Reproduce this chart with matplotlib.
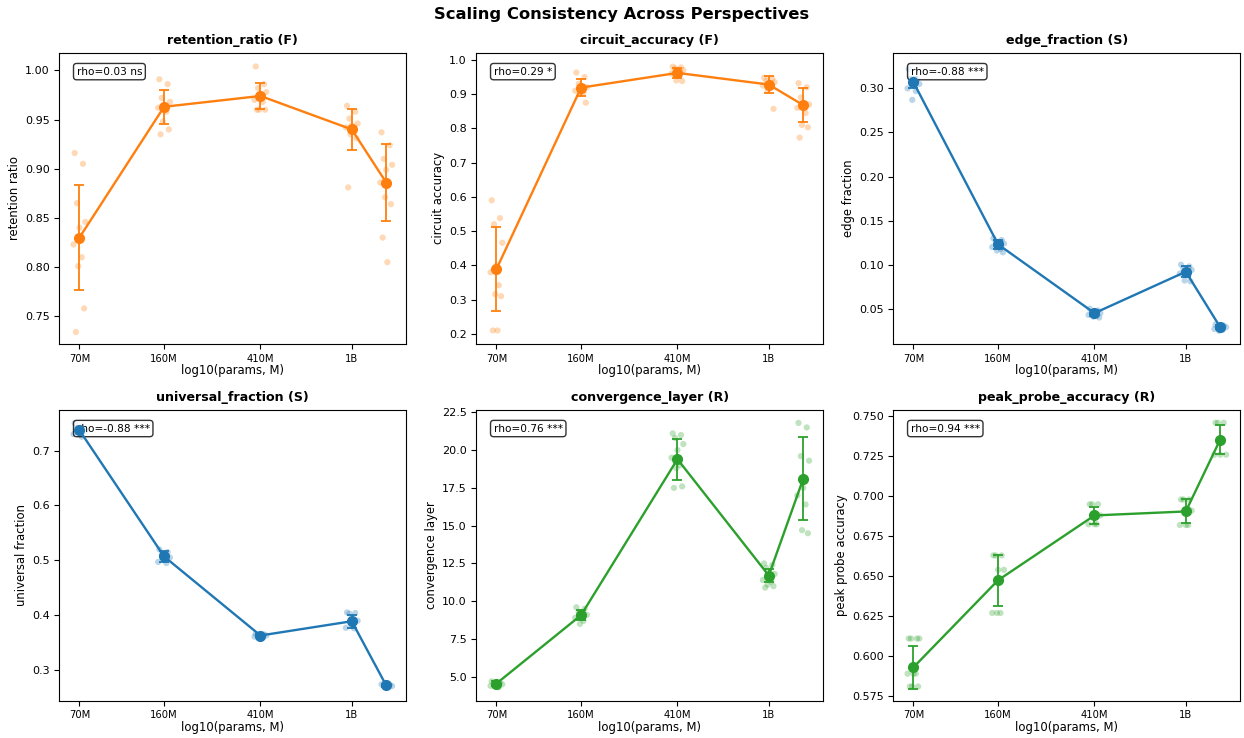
import numpy as np
import matplotlib
matplotlib.use("Agg")
import matplotlib.pyplot as plt

# model sizes (millions of params); last one has no tick label
sizes = [70, 160, 410, 1000, 1400]
size_labels = ["70M", "160M", "410M", "1B"]

# retention_ratio (F)
ret_points = [
    [0.916, 0.905, 0.865, 0.846, 0.840, 0.823, 0.810, 0.801, 0.758, 0.734],
    [0.991, 0.986, 0.972, 0.968, 0.965, 0.962, 0.958, 0.948, 0.940, 0.935],
    [1.004, 0.986, 0.982, 0.978, 0.975, 0.970, 0.968, 0.960, 0.960, 0.960],
    [0.964, 0.958, 0.951, 0.946, 0.944, 0.942, 0.940, 0.935, 0.931, 0.881],
    [0.937, 0.924, 0.910, 0.904, 0.899, 0.886, 0.884, 0.871, 0.864, 0.830, 0.805],
]
ret_mean = [0.830, 0.963, 0.974, 0.940, 0.886]
ret_err = [0.053, 0.017, 0.013, 0.021, 0.039]

# circuit_accuracy (F)
circ_points = [
    [0.590, 0.538, 0.520, 0.466, 0.400, 0.380, 0.342, 0.316, 0.310, 0.210, 0.210],
    [0.963, 0.950, 0.930, 0.920, 0.915, 0.910, 0.905, 0.900, 0.875],
    [0.980, 0.978, 0.975, 0.970, 0.965, 0.960, 0.955, 0.940, 0.938],
    [0.948, 0.945, 0.940, 0.935, 0.930, 0.925, 0.920, 0.910, 0.857],
    [0.932, 0.920, 0.890, 0.870, 0.865, 0.860, 0.845, 0.810, 0.803, 0.773],
]
circ_mean = [0.389, 0.919, 0.962, 0.928, 0.868]
circ_err = [0.123, 0.025, 0.014, 0.024, 0.049]

# edge_fraction (S)
edge_points = [
    [0.322, 0.310, 0.308, 0.305, 0.303, 0.300, 0.297, 0.287],
    [0.130, 0.128, 0.126, 0.124, 0.122, 0.120, 0.118, 0.116, 0.114],
    [0.050, 0.048, 0.046, 0.045, 0.044, 0.043, 0.042, 0.041, 0.040],
    [0.100, 0.098, 0.096, 0.094, 0.092, 0.090, 0.088, 0.082, 0.081],
    [0.032, 0.031, 0.030, 0.029, 0.028, 0.027, 0.026, 0.025],
]
edge_mean = [0.307, 0.123, 0.045, 0.092, 0.029]
edge_err = [0.006, 0.005, 0.003, 0.006, 0.002]

# universal_fraction (S)
univ_points = [
    [0.750, 0.745, 0.740, 0.735, 0.730, 0.730, 0.725],
    [0.520, 0.515, 0.510, 0.505, 0.500, 0.497, 0.495],
    [0.366, 0.365, 0.364, 0.363, 0.362, 0.361],
    [0.405, 0.404, 0.403, 0.390, 0.380, 0.377, 0.376],
    [0.274, 0.273, 0.272, 0.271, 0.270],
]
univ_mean = [0.737, 0.507, 0.363, 0.389, 0.272]
univ_err = [0.007, 0.010, 0.002, 0.012, 0.002]

# convergence_layer (R)
conv_points = [
    [4.7, 4.6, 4.6, 4.5, 4.5, 4.4, 4.3],
    [9.6, 9.5, 9.3, 9.1, 9.0, 8.9, 8.7, 8.5],
    [21.1, 21.0, 20.8, 20.4, 20.0, 19.5, 19.0, 18.8, 17.6, 17.5],
    [12.5, 12.4, 12.2, 11.8, 11.6, 11.4, 11.3, 11.1, 11.0, 10.9],
    [21.8, 21.5, 19.6, 19.3, 17.5, 17.0, 16.4, 14.7, 14.5],
]
conv_mean = [4.55, 9.08, 19.4, 11.7, 18.1]
conv_err = [0.15, 0.35, 1.35, 0.45, 2.75]

# peak_probe_accuracy (R)
probe_points = [
    [0.611, 0.611, 0.611, 0.611, 0.589, 0.589, 0.589, 0.581, 0.581, 0.581],
    [0.663, 0.663, 0.663, 0.654, 0.654, 0.627, 0.627, 0.627],
    [0.695, 0.695, 0.695, 0.688, 0.6825, 0.6825, 0.6825],
    [0.698, 0.698, 0.698, 0.691, 0.682, 0.682, 0.682],
    [0.746, 0.746, 0.746, 0.726, 0.726, 0.726],
]
probe_mean = [0.593, 0.6475, 0.688, 0.6905, 0.7355]
probe_err = [0.0135, 0.016, 0.0055, 0.0075, 0.009]

titles = ["retention_ratio (F)", "circuit_accuracy (F)", "edge_fraction (S)",
          "universal_fraction (S)", "convergence_layer (R)", "peak_probe_accuracy (R)"]
ylabels = ["retention ratio", "circuit accuracy", "edge fraction",
           "universal fraction", "convergence layer", "peak probe accuracy"]
rho_text = ["rho=0.03 ns", "rho=0.29 *", "rho=-0.88 ***",
            "rho=-0.88 ***", "rho=0.76 ***", "rho=0.94 ***"]
all_points = [ret_points, circ_points, edge_points, univ_points, conv_points, probe_points]
all_means = [ret_mean, circ_mean, edge_mean, univ_mean, conv_mean, probe_mean]
all_errs = [ret_err, circ_err, edge_err, univ_err, conv_err, probe_err]
colors = ["#ff7f0e", "#ff7f0e", "#1f77b4", "#1f77b4", "#2ca02c", "#2ca02c"]
ylims = [(0.722, 1.018), (0.171, 1.021), (0.0102, 0.3405),
         (0.2442, 0.7745), (3.415, 22.68), (0.5721, 0.7542)]

# fixed horizontal jitter pattern for the raw points
jitter = [-0.02, 0.015, -0.01, 0.025, 0.0, -0.025, 0.01, -0.005, 0.02, -0.015, 0.005]

x = np.log10(sizes)

fig, axes = plt.subplots(2, 3, figsize=(12.44, 7.38), dpi=100)
fig.subplots_adjust(left=0.0477, right=0.9968, top=0.9286, bottom=0.0505,
                    wspace=0.203, hspace=0.226)

for i, ax in enumerate(axes.flat):
    c = colors[i]
    for xi, pts in zip(x, all_points[i]):
        xs = [xi + jitter[k % len(jitter)] for k in range(len(pts))]
        ax.scatter(xs, pts, color=c, alpha=0.3, s=20, edgecolors="none", zorder=2)
    ax.errorbar(x, all_means[i], yerr=all_errs[i], color=c, marker="o",
                markersize=7, linewidth=1.7, capsize=3.6, elinewidth=1.3,
                capthick=1.3, zorder=3)
    ax.set_title(titles[i], fontsize=9.1, fontweight="bold")
    ax.set_ylabel(ylabels[i], fontsize=8.4, labelpad=3)
    ax.set_xlabel("log10(params, M)", fontsize=8.4, labelpad=0.5)
    ax.set_xticks(x[:4])
    ax.set_xticklabels(size_labels, fontsize=7.2)
    ax.tick_params(axis="y", labelsize=8)
    ax.set_xlim(1.76, 3.23)
    ax.set_ylim(*ylims[i])
    ax.text(0.05, 0.935, rho_text[i], transform=ax.transAxes, fontsize=7.6,
            va="center", ha="left",
            bbox=dict(boxstyle="round,pad=0.3", facecolor="white", alpha=0.8))

fig.suptitle("Scaling Consistency Across Perspectives", fontsize=11.8,
             fontweight="bold", y=0.99)
fig.savefig("out.png", dpi=100)
